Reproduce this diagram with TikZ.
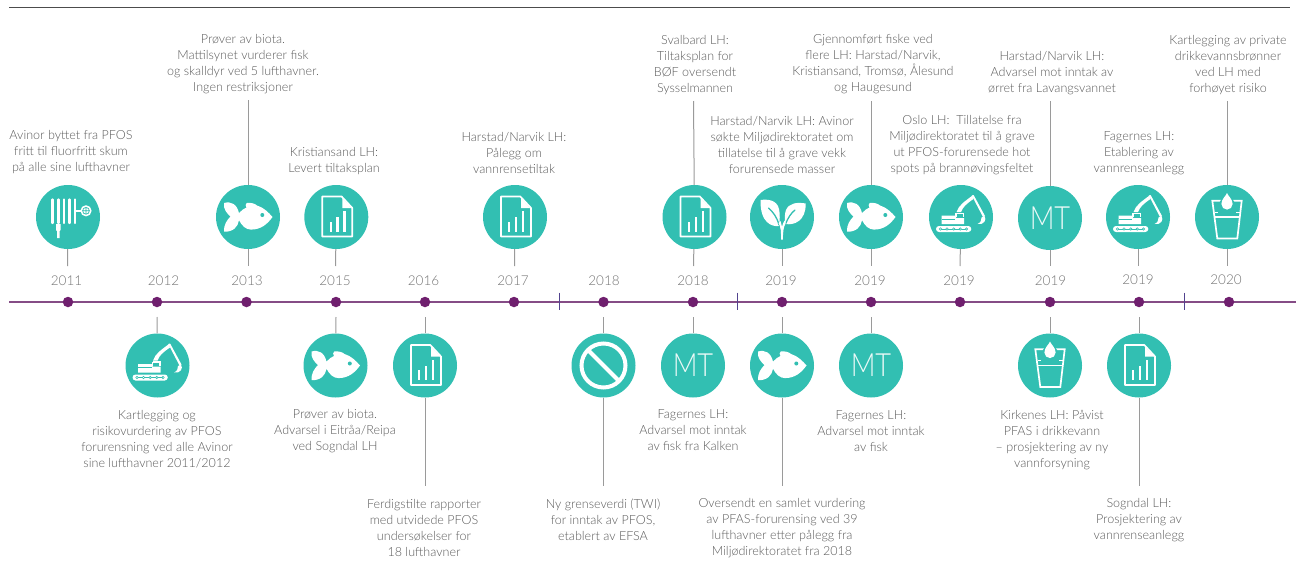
\documentclass[tikz,border=0pt]{standalone}
\usepackage{fontspec}
\setmainfont{Lato}[UprightFont=* Light,BoldFont=* Regular]
\definecolor{teal1}{HTML}{32BFB2}
\definecolor{plum}{HTML}{6F1F6E}
\definecolor{axisline}{HTML}{854C86}
\definecolor{tickc}{HTML}{52438F}
\definecolor{conn}{HTML}{9A9A9A}
\definecolor{txt}{HTML}{5A5A5A}
\newcommand{\mtmark}{\scalebox{0.85}[1]{MT}}
\tikzset{
 x=1pt,y=-1pt,
 label/.style={font=\fontsize{12.55}{16}\selectfont,text=txt,align=center,inner sep=0pt,yshift=-1pt},
 yearlabel/.style={font=\fontsize{13.5}{16}\selectfont,text=txt!85,inner sep=0pt},
 badge/.style={circle,fill=teal1,minimum size=64pt,inner sep=0pt,font=\fontsize{32}{32}\selectfont,text=white!90!teal1},
 dot/.style={circle,fill=plum,minimum size=10.5pt,inner sep=0pt},
 connector/.style={draw=conn,line width=1pt},
 tick/.style={draw=tickc,line width=1pt},
 fishicon/.pic={
  \fill[white] (-24,-14) .. controls (-17,-16) and (-11,-13) .. (-9,-3.8)
    .. controls (-7,-6.5) and (-4,-8.5) .. (-1.5,-9.5) .. controls (-3,-11) and (-2.5,-13) .. (-1.3,-14)
    .. controls (3,-14.5) and (7,-13.5) .. (9,-11.5) .. controls (16,-9.5) and (21,-4) .. (24.5,0)
    .. controls (19.5,7) and (13,12.6) .. (3,12.6) .. controls (-2,12.6) and (-6,9) .. (-9,3.2)
    .. controls (-10,10) and (-15,15) .. (-24,14.7) .. controls (-24.5,8) and (-21,3) .. (-17.5,-0.5)
    .. controls (-21,-3.5) and (-25,-8) .. (-24,-14) -- cycle;
  \fill[teal1] (14.3,-2) circle (2);
 },
 docicon/.pic={
  \draw[white,line width=1.7pt,line join=round] (5.3,-20.5) -- (-14,-20.5) -- (-14,19.5) -- (16,19.5) -- (16,-9) -- cycle;
  \fill[white] (6,-19) -- (15,-9) -- (6,-9) -- cycle;
  \fill[white] (-6.8,4.5) rectangle (-4.6,14.7);
  \fill[white] (0,0) rectangle (2.2,14.7);
  \fill[white] (7,-6) rectangle (9.2,14.7);
 },
 hoseicon/.pic={
  \foreach \hx in {-15.7,-9.7,-4,1.5,7}{\draw[white,line width=2.4pt,line cap=round] (\hx,-17.5) -- (\hx,6);}
  \fill[white] (-12,7) -- (-7.4,7) -- (-7.4,13) -- (-8.3,14) -- (-8.3,21) -- (-11,21) -- (-11,14) -- (-12,13) -- cycle;
  \draw[white,line width=1.6pt] (8,-6.3) -- (13,-6.3);
  \fill[white] (18,-6.2) circle (5.6);
  \draw[teal1,line width=0.7pt] (18,-6.2) circle (3.4) (18,-9.6) -- (18,-2.8) (14.6,-6.2) -- (21.4,-6.2);
 },
 diggericon/.pic={
  \fill[white,rounded corners=3pt] (-25,9) rectangle (10.3,15);
  \draw[teal1,line width=0.6pt] (-20.5,12) -- (5.5,12);
  \foreach \dx in {-20.5,-14,-7.3,-0.7,5.6}{\draw[teal1,fill=white,line width=0.6pt] (\dx,12) circle (1.2);}
  \fill[white] (-19.3,-1.5) -- (-5,-1.5) -- (-5,1) -- (3.2,1) -- (3.2,7) -- (-19.3,7) -- cycle;
  \fill[teal1] (-19.3,1.6) rectangle (-6,2.2);
  \draw[white,line width=1.4pt] (-5,-3.6) -- (2.6,-3.6) -- (2.6,0);
  \draw[white,line width=1.4pt] (-5,-3.6) -- (-5,0);
  \fill[white] (-4.5,-5) .. controls (-2,-12) and (3,-15) .. (11.5,-21.5) -- (12.5,-18) .. controls (5,-13) and (2,-10) .. (0,-5) -- cycle;
  \fill[white] (10.8,-21.5) -- (12.6,-22) -- (24,-1) -- (22,0) -- cycle;
  \fill[white] (23.5,-1) .. controls (26,3) and (23,8) .. (16.5,7) .. controls (20,5.5) and (20.5,3) .. (20.5,0.5) -- cycle;
 },
 planticon/.pic={
  \fill[white] (-21.5,-17) .. controls (-14,-18) and (-5,-17) .. (-3,-8) .. controls (-2,-3) and (-2,3) .. (-3,9)
     .. controls (-10,10) and (-22,6) .. (-21.5,-17) -- cycle;
  \fill[white] (23.7,-13.5) .. controls (15,-15) and (7,-14) .. (4,-7) .. controls (2.5,-3) and (2.5,2) .. (3.5,7)
     .. controls (12,8.5) and (24,4) .. (23.7,-13.5) -- cycle;
  \draw[teal1,line width=1.3pt,line cap=round] (-13.5,-9) .. controls (-9,-5) and (-5,0) .. (-3,8);
  \draw[teal1,line width=1.3pt,line cap=round] (13,-7) .. controls (9,-4) and (6,1) .. (3.5,7);
  \draw[teal1,line width=1.6pt] (-4,10) .. controls (-2.5,11) and (-1.8,13) .. (-1.6,16);
  \draw[teal1,line width=1.6pt] (4,9) .. controls (2.5,11) and (1.8,13) .. (1.6,16);
  \fill[white] (-0.9,22.5) .. controls (-0.9,15) and (-1,10) .. (-3.5,6) -- (-1.5,4) .. controls (-1,6) and (-0.4,8) .. (0,10)
     .. controls (0.4,8) and (1,6) .. (2.5,3.5) -- (3.8,6) .. controls (1.4,10) and (0.9,15) .. (0.9,22.5) -- cycle;
 },
 glassicon/.pic={
  \draw[white,line width=1.7pt,line join=miter] (-14.7,-16.3) -- (14.7,-16.3) -- (10.3,21.5) -- (-9.7,21.5) -- cycle;
  \draw[white,line width=1.4pt] (-12,0) -- (12.4,0);
  \draw[white,line width=0.9pt] (-12.3,-5) -- (-9,-5) (9,-5) -- (12.6,-5);
  \fill[teal1] (0,-12.6) circle (7.6);
  \fill[white] (0,-24) .. controls (1,-21) and (5.6,-18) .. (5.6,-13) arc[start angle=0,end angle=180,radius=5.6] .. controls (-5.6,-18) and (-1,-21) .. (0,-24) -- cycle;
 },
 banicon/.pic={
  \draw[white,line width=4pt] (0,0) circle (22);
  \draw[white,line width=4pt] (-15.5,-15.5) -- (15.5,15.5);
 },
}
\begin{document}
\begin{tikzpicture}
\useasboundingbox (0,0) rectangle (1296,581);
% rules
\coordinate (topL) at (9,7); \coordinate (topR) at (1290,7);
\draw[line width=1pt,draw=black!70] (topL) -- (topR);
\coordinate (axL) at (9,302); \coordinate (axR) at (1296,302);
\draw[draw=axisline,line width=1.3pt] (axL) -- (axR);
\coordinate (t1a) at (559,292.5); \coordinate (t1b) at (559,310);
\coordinate (t2a) at (737.5,292.5); \coordinate (t2b) at (737.5,310);
\coordinate (t3a) at (1184,292.5); \coordinate (t3b) at (1184,310);
\draw[tick] (t1a) -- (t1b); \draw[tick] (t2a) -- (t2b); \draw[tick] (t3a) -- (t3b);
% dots
\foreach \n/\x in {1/68,2/157,3/246.5,4/336,5/425,6/514,7/603.5,8/693,9/782,10/871,11/960,12/1050,13/1139,14/1229}
  \node[dot] (d\n) at (\x,302) {};
% years
\node[yearlabel] (y1) at (66.5,280.5) {2011};
\node[yearlabel] (y2) at (163.5,280.5) {2012};
\node[yearlabel] (y3) at (247,280.5) {2013};
\node[yearlabel] (y4) at (335,280.5) {2015};
\node[yearlabel] (y5) at (423.5,280.5) {2016};
\node[yearlabel] (y6) at (513,280.5) {2017};
\node[yearlabel] (y7) at (604,280.5) {2018};
\node[yearlabel] (y8) at (693,280.5) {2018};
\node[yearlabel] (y9) at (781,281) {2019};
\node[yearlabel] (y10) at (870,281) {2019};
\node[yearlabel] (y11) at (959,281) {2019};
\node[yearlabel] (y12) at (1050.5,281) {2019};
\node[yearlabel] (y13) at (1138,280) {2019};
\node[yearlabel] (y14) at (1226,280) {2020};
% upper badges
\node[badge] (u1) at (68,217) {};
\node[badge] (u3) at (248,217) {};
\node[badge] (u4) at (336.3,217) {};
\node[badge] (u6) at (515,217) {};
\node[badge] (u8) at (694.5,217) {};
\node[badge] (u9) at (782,217) {};
\node[badge] (u10) at (871,217) {};
\node[badge] (u11) at (961,217) {};
\node[badge] (u12) at (1050,218) {\mtmark};
\node[badge] (u13) at (1138,217) {};
\node[badge] (u14) at (1227,217) {};
% lower badges
\node[badge] (l2) at (157.5,365.5) {};
\node[badge] (l4) at (335.5,365.5) {};
\node[badge] (l5) at (425,365.5) {};
\node[badge] (l7) at (603.5,365.5) {};
\node[badge] (l8) at (693,365.5) {\mtmark};
\node[badge] (l9) at (782,365.5) {};
\node[badge] (l10) at (871,365.5) {\mtmark};
\node[badge] (l12) at (1050,365.5) {};
\node[badge] (l13) at (1139,365.5) {};
% icons
\pic at (u1) {hoseicon};
\pic at (u3) {fishicon};
\pic at (u4) {docicon};
\pic at (u6) {docicon};
\pic at (u8) {docicon};
\pic at (u9) {planticon};
\pic at (u10) {fishicon};
\pic at (u11) {diggericon};
\pic at (u13) {diggericon};
\pic at (u14) {glassicon};
\pic at (l2) {diggericon};
\pic at (l4) {fishicon};
\pic at (l5) {docicon};
\pic at (l7) {banicon};
\pic at (l9) {fishicon};
\pic at (l12) {glassicon};
\pic at (l13) {docicon};
% connector ends
\foreach \n/\x in {1/67.5,3/248,4/335.5,6/514.5,8/693.5,9/782,10/871,11/960,12/1050,13/1138,14/1227}
  \coordinate (us\n) at (\x,266);
\foreach \n/\x in {2/157,4/336,5/425,7/603.5,8/693,9/782,10/871,12/1050,13/1139}
  \coordinate (ls\n) at (\x,317);
\foreach \n in {1,3,4,6,8,9,10,11,12,13,14}
  \draw[connector] (u\n) -- (us\n);
\foreach \n in {2,4,5,7,8,9,10,12,13}
  \draw[connector] (l\n) -- (ls\n);
\coordinate (up3) at (248,100);
\coordinate (up8) at (693.5,101);
\coordinate (up10) at (871,101);
\coordinate (up12) at (1050,101);
\coordinate (up14) at (1227,101);
\foreach \n in {3,8,10,12,14}
  \draw[connector] (u\n) -- (up\n);
\coordinate (dn5) at (425,486);
\coordinate (dn7) at (603.5,486);
\coordinate (dn9) at (782,486);
\coordinate (dn13) at (1139,486);
\foreach \n in {5,7,9,13}
  \draw[connector] (l\n) -- (dn\n);
% upper texts
\node[label] (a1) at (71,151) {Avinor byttet fra PFOS\\fritt til fluorfritt skum\\på alle sine lufthavner};
\node[label] (a3) at (243,63) {Prøver av biota.\\Mattilsynet vurderer fisk\\og skalldyr ved 5 lufthavner.\\Ingen restriksjoner};
\node[label] (a4) at (334,160) {Kristiansand LH:\\Levert tiltaksplan};
\node[label] (a6) at (514,152) {Harstad/Narvik LH:\\Pålegg om\\vannrensetiltak};
\node[label] (a8) at (695,64) {Svalbard LH:\\Tiltaksplan for\\BØF oversendt\\Sysselmannen};
\node[label] (a9) at (782,144) {Harstad/Narvik LH: Avinor\\søkte Miljødirektoratet om\\tillatelse til å grave vekk\\forurensede masser};
\node[label] (a10) at (873,63) {Gjennomført fiske ved\\flere LH: Harstad/Narvik,\\Kristiansand, Tromsø, Ålesund\\og Haugesund};
\node[label] (a11) at (962,144) {Oslo LH:~ Tillatelse fra\\Miljødirektoratet til å grave\\ut PFOS-forurensede hot\\spots på brannøvingsfeltet};
\node[label] (a12) at (1052,72) {Harstad/Narvik LH:\\Advarsel mot inntak av\\ørret fra Lavangsvannet};
\node[label] (a13) at (1139,152) {Fagernes LH:\\Etablering av\\vannrenseanlegg};
\node[label] (a14) at (1228,64) {Kartlegging av private\\drikkevannsbrønner\\ved LH med\\forhøyet risiko};
% lower texts
\node[label] (b2) at (157,438) {Kartlegging og\\risikovurdering av PFOS\\forurensning ved alle Avinor\\sine lufthavner 2011/2012};
\node[label] (b4) at (335,430) {Prøver av biota.\\Advarsel i Eitråa/Reipa\\ved Sogndal LH};
\node[label] (b5) at (424,527) {Ferdigstilte rapporter\\med utvidede PFOS\\undersøkelser for\\18 lufthavner};
\node[label] (b7) at (603,519) {Ny grenseverdi (TWI)\\for inntak av PFOS,\\etablert av EFSA};
\node[label] (b8) at (693,429) {Fagernes LH:\\Advarsel mot inntak\\av fisk fra Kalken};
\node[label] (b9) at (782,527) {Oversendt en samlet vurdering\\av PFAS-forurensing ved 39\\lufthavner etter pålegg fra\\Miljødirektoratet fra 2018};
\node[label] (b10) at (871,430) {Fagernes LH:\\Advarsel mot inntak\\av fisk};
\node[label] (b12) at (1052,439) {Kirkenes LH: Påvist\\PFAS i drikkevann\\– prosjektering av ny\\vannforsyning};
\node[label] (b13) at (1139,519) {Sogndal LH:\\Prosjektering av\\vannrenseanlegg};
\end{tikzpicture}
\end{document}
